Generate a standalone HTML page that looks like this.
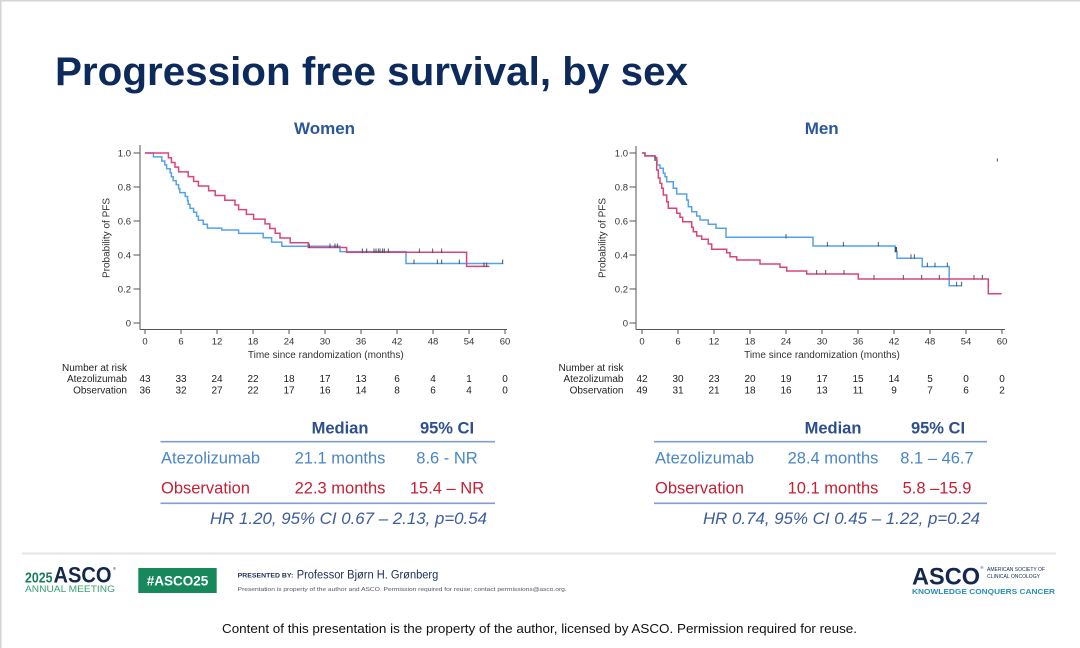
<!DOCTYPE html>
<html>
<head>
<meta charset="utf-8">
<style>
  html, body { margin: 0; padding: 0; background: #ffffff; }
  body { width: 1080px; height: 648px; overflow: hidden; }
  svg { display: block; font-family: "Liberation Sans", Arial, sans-serif; }
</style>
</head>
<body>
<svg width="1080" height="648" viewBox="0 0 1080 648" xmlns="http://www.w3.org/2000/svg">
  <rect x="0" y="0" width="1080" height="648" fill="#ffffff"/>
  <!-- slide border -->
  <line x1="0" y1="0.75" x2="1080" y2="0.75" stroke="#d4d4d4" stroke-width="1.5"/>
  <line x1="0.75" y1="0" x2="0.75" y2="648" stroke="#d4d4d4" stroke-width="1.5"/>

  <!-- Title -->
  <text x="55" y="85" font-size="40" font-weight="bold" fill="#0c2a5b" textLength="633" lengthAdjust="spacingAndGlyphs">Progression free survival, by sex</text>

  <!-- Panel titles -->
  <text x="324.5" y="134" font-size="17" font-weight="bold" fill="#2b579a" text-anchor="middle">Women</text>
  <text x="821.7" y="134" font-size="17" font-weight="bold" fill="#2b579a" text-anchor="middle">Men</text>

  <!-- ============ WOMEN PLOT ============ -->
  <g stroke="#555" stroke-width="1" fill="none">
    <line x1="140" y1="145" x2="140" y2="329.5"/>
    <line x1="140" y1="329.5" x2="507" y2="329.5"/>
    <line x1="133.5" y1="153" x2="140" y2="153"/>
    <line x1="133.5" y1="187" x2="140" y2="187"/>
    <line x1="133.5" y1="221" x2="140" y2="221"/>
    <line x1="133.5" y1="255" x2="140" y2="255"/>
    <line x1="133.5" y1="289" x2="140" y2="289"/>
    <line x1="133.5" y1="323" x2="140" y2="323"/>
    <line x1="145" y1="329.5" x2="145" y2="334"/>
    <line x1="181" y1="329.5" x2="181" y2="334"/>
    <line x1="217" y1="329.5" x2="217" y2="334"/>
    <line x1="253" y1="329.5" x2="253" y2="334"/>
    <line x1="289" y1="329.5" x2="289" y2="334"/>
    <line x1="325" y1="329.5" x2="325" y2="334"/>
    <line x1="361" y1="329.5" x2="361" y2="334"/>
    <line x1="397" y1="329.5" x2="397" y2="334"/>
    <line x1="433" y1="329.5" x2="433" y2="334"/>
    <line x1="469" y1="329.5" x2="469" y2="334"/>
    <line x1="505" y1="329.5" x2="505" y2="334"/>
  </g>
  <g font-size="9.5" fill="#333" text-anchor="end">
    <text x="131" y="156.4">1.0</text>
    <text x="131" y="190.4">0.8</text>
    <text x="131" y="224.4">0.6</text>
    <text x="131" y="258.4">0.4</text>
    <text x="131" y="292.4">0.2</text>
    <text x="131" y="326.4">0</text>
  </g>
  <g font-size="9.5" fill="#333" text-anchor="middle">
    <text x="145" y="344.5">0</text>
    <text x="181" y="344.5">6</text>
    <text x="217" y="344.5">12</text>
    <text x="253" y="344.5">18</text>
    <text x="289" y="344.5">24</text>
    <text x="325" y="344.5">30</text>
    <text x="361" y="344.5">36</text>
    <text x="397" y="344.5">42</text>
    <text x="433" y="344.5">48</text>
    <text x="469" y="344.5">54</text>
    <text x="505" y="344.5">60</text>
  </g>
  <text x="325.8" y="358" font-size="10" fill="#333" text-anchor="middle">Time since randomization (months)</text>
  <text transform="translate(109.5,238) rotate(-90)" font-size="10" fill="#333" text-anchor="middle">Probability of PFS</text>

  <!-- Women curves -->
  <path d="M145,153 H153.4 V156.9 H161.8 V161 H164.8 V164.9 H166.6 V168.8 H170.2 V172.7 H171.4 V176.8 H173.2 V180.7 H176.2 V184.6 H178.6 V188.7 H179.8 V192.6 H185.2 V196.5 H187.6 V200.6 H188.2 V204.3 H190 V208.4 H193.6 V212.3 H196.6 V216.2 H198.4 V220.2 H203.2 V224.2 H207.4 V228.1 H221.8 V230 H238.6 V233.4 H263.2 V237.7 H271.6 V242.1 H281.8 V246.2 H340 V251.6 H406 V263.5 H503.2" fill="none" stroke="#55a2ec" stroke-width="1.5"/>
  <path d="M145,153 H168.4 V157.8 H171.4 V162.5 H175 V167.1 H178.6 V171.9 H188.2 V176.6 H193.6 V181.4 H198.4 V186 H208.6 V190.7 H215.2 V195.5 H224.8 V200.3 H235 V205 H238.6 V209.6 H246.4 V214.4 H253.6 V219.1 H265 V223.9 H269.8 V228.5 H275.2 V233.2 H280 V238 H290.2 V242.8 H308.2 V247.5 H346.6 V252.3 H466.6 V266.4 H489.4" fill="none" stroke="#d8457a" stroke-width="1.5"/>
  <!-- Women censor ticks -->
  <g stroke="#444" stroke-width="0.9">
    <line x1="309.3" y1="243.5" x2="309.3" y2="248"/>
    <line x1="330" y1="243.5" x2="330" y2="248"/>
    <line x1="335" y1="243.5" x2="335" y2="248"/>
    <line x1="337.3" y1="243.5" x2="337.3" y2="248"/>
    <line x1="362.3" y1="248.5" x2="362.3" y2="253"/>
    <line x1="366.7" y1="248.5" x2="366.7" y2="253"/>
    <line x1="374" y1="248.5" x2="374" y2="253"/>
    <line x1="376" y1="248.5" x2="376" y2="253"/>
    <line x1="378.3" y1="248.5" x2="378.3" y2="253"/>
    <line x1="380" y1="248.5" x2="380" y2="253"/>
    <line x1="382.7" y1="248.5" x2="382.7" y2="253"/>
    <line x1="384.3" y1="248.5" x2="384.3" y2="253"/>
    <line x1="388.3" y1="248.5" x2="388.3" y2="253"/>
    <line x1="419.3" y1="248.5" x2="419.3" y2="253"/>
    <line x1="432.7" y1="248.5" x2="432.7" y2="253"/>
    <line x1="441.7" y1="248.5" x2="441.7" y2="253"/>
    <line x1="414" y1="259.5" x2="414" y2="264"/>
    <line x1="437.3" y1="259.5" x2="437.3" y2="264"/>
    <line x1="441.7" y1="259.5" x2="441.7" y2="264"/>
    <line x1="459.3" y1="259.5" x2="459.3" y2="264"/>
    <line x1="502.7" y1="259.5" x2="502.7" y2="264"/>
    <line x1="484" y1="262.5" x2="484" y2="267"/>
    <line x1="486.7" y1="262.5" x2="486.7" y2="267"/>
  </g>

  <!-- Women number at risk -->
  <g font-size="10" fill="#222" text-anchor="end">
    <text x="127" y="371">Number at risk</text>
    <text x="127" y="382">Atezolizumab</text>
    <text x="127" y="393.5">Observation</text>
  </g>
  <g font-size="10" fill="#222" text-anchor="middle">
    <text x="145" y="382">43</text><text x="181" y="382">33</text><text x="217" y="382">24</text><text x="253" y="382">22</text><text x="289" y="382">18</text><text x="325" y="382">17</text><text x="361" y="382">13</text><text x="397" y="382">6</text><text x="433" y="382">4</text><text x="469" y="382">1</text><text x="505" y="382">0</text>
    <text x="145" y="393.5">36</text><text x="181" y="393.5">32</text><text x="217" y="393.5">27</text><text x="253" y="393.5">22</text><text x="289" y="393.5">17</text><text x="325" y="393.5">16</text><text x="361" y="393.5">14</text><text x="397" y="393.5">8</text><text x="433" y="393.5">6</text><text x="469" y="393.5">4</text><text x="505" y="393.5">0</text>
  </g>

  <!-- ============ MEN PLOT ============ -->
  <g stroke="#555" stroke-width="1" fill="none">
    <line x1="636" y1="146" x2="636" y2="329.5"/>
    <line x1="636" y1="329.5" x2="1005" y2="329.5"/>
    <line x1="629.5" y1="153" x2="636" y2="153"/>
    <line x1="629.5" y1="187" x2="636" y2="187"/>
    <line x1="629.5" y1="221" x2="636" y2="221"/>
    <line x1="629.5" y1="255" x2="636" y2="255"/>
    <line x1="629.5" y1="289" x2="636" y2="289"/>
    <line x1="629.5" y1="323" x2="636" y2="323"/>
    <line x1="642" y1="329.5" x2="642" y2="334"/>
    <line x1="678" y1="329.5" x2="678" y2="334"/>
    <line x1="714" y1="329.5" x2="714" y2="334"/>
    <line x1="750" y1="329.5" x2="750" y2="334"/>
    <line x1="786" y1="329.5" x2="786" y2="334"/>
    <line x1="822" y1="329.5" x2="822" y2="334"/>
    <line x1="858" y1="329.5" x2="858" y2="334"/>
    <line x1="894" y1="329.5" x2="894" y2="334"/>
    <line x1="930" y1="329.5" x2="930" y2="334"/>
    <line x1="966" y1="329.5" x2="966" y2="334"/>
    <line x1="1002" y1="329.5" x2="1002" y2="334"/>
  </g>
  <g font-size="9.5" fill="#333" text-anchor="end">
    <text x="628" y="156.4">1.0</text>
    <text x="628" y="190.4">0.8</text>
    <text x="628" y="224.4">0.6</text>
    <text x="628" y="258.4">0.4</text>
    <text x="628" y="292.4">0.2</text>
    <text x="628" y="326.4">0</text>
  </g>
  <g font-size="9.5" fill="#333" text-anchor="middle">
    <text x="642" y="344.5">0</text>
    <text x="678" y="344.5">6</text>
    <text x="714" y="344.5">12</text>
    <text x="750" y="344.5">18</text>
    <text x="786" y="344.5">24</text>
    <text x="822" y="344.5">30</text>
    <text x="858" y="344.5">36</text>
    <text x="894" y="344.5">42</text>
    <text x="930" y="344.5">48</text>
    <text x="966" y="344.5">54</text>
    <text x="1002" y="344.5">60</text>
  </g>
  <text x="822" y="358" font-size="10" fill="#333" text-anchor="middle">Time since randomization (months)</text>
  <text transform="translate(605.5,238) rotate(-90)" font-size="10" fill="#333" text-anchor="middle">Probability of PFS</text>

  <!-- Men curves -->
  <path d="M642,153 H645 V155.7 H655 V160 H657 V165 H660 V168.3 H663.3 V173.3 H665 V176.7 H666.7 V181.7 H673.3 V188.3 H676.7 V194 H686.7 V200 H688.3 V206.7 H691.7 V211.7 H696.7 V216 H700 V220 H708.3 V224.3 H716 V228.3 H726 V237.3 H813 V246 H895.2 V251.6 H897 V258.2 H922.2 V266.6 H949.2 V285.8 H961.8" fill="none" stroke="#55a2ec" stroke-width="1.5"/>
  <path d="M642,153 H645 V156 H655 V157.5 H656.7 V170 H658.3 V178 H660 V183.3 H661.7 V188.3 H663.3 V195 H666.7 V201.7 H668.3 V208.3 H676.7 V213.3 H680 V217.3 H682.7 V221.7 H691.7 V227.3 H693.3 V231.7 H696.7 V236 H701.7 V239.3 H708.3 V244 H711.7 V249.3 H726.7 V252.7 H730 V256.7 H736.7 V260 H760 V264 H780 V267.3 H786.7 V271 H806.7 V274 H858.3 V279 H988.3 V293.7 H1001.7" fill="none" stroke="#d8457a" stroke-width="1.5"/>
  <!-- Men censor ticks -->
  <g stroke="#444" stroke-width="0.9">
    <line x1="655" y1="156.5" x2="655" y2="161"/>
    <line x1="786" y1="234" x2="786" y2="238.5"/>
    <line x1="827.3" y1="242" x2="827.3" y2="246.5"/>
    <line x1="843.3" y1="242" x2="843.3" y2="246.5"/>
    <line x1="878.3" y1="242" x2="878.3" y2="246.5"/>
    <line x1="895.5" y1="247" x2="895.5" y2="252"/>
    <line x1="896.5" y1="247" x2="896.5" y2="252"/>
    <line x1="911" y1="254.2" x2="911" y2="258.7"/>
    <line x1="914.3" y1="254.2" x2="914.3" y2="258.7"/>
    <line x1="927.3" y1="262.6" x2="927.3" y2="267"/>
    <line x1="935" y1="262.6" x2="935" y2="267"/>
    <line x1="947.3" y1="262.6" x2="947.3" y2="267"/>
    <line x1="956.7" y1="281.8" x2="956.7" y2="286.3"/>
    <line x1="961.7" y1="281.8" x2="961.7" y2="286.3"/>
    <line x1="816.7" y1="270" x2="816.7" y2="274.5"/>
    <line x1="825.7" y1="270" x2="825.7" y2="274.5"/>
    <line x1="844" y1="270" x2="844" y2="274.5"/>
    <line x1="874" y1="275" x2="874" y2="279.5"/>
    <line x1="903.3" y1="275" x2="903.3" y2="279.5"/>
    <line x1="921.7" y1="275" x2="921.7" y2="279.5"/>
    <line x1="939.3" y1="275" x2="939.3" y2="279.5"/>
    <line x1="974" y1="275" x2="974" y2="279.5"/>
    <line x1="982.3" y1="275" x2="982.3" y2="279.5"/>
    <line x1="997.3" y1="158.5" x2="997.3" y2="161.5"/>
  </g>

  <!-- Men number at risk -->
  <g font-size="10" fill="#222" text-anchor="end">
    <text x="623.5" y="371">Number at risk</text>
    <text x="623.5" y="382">Atezolizumab</text>
    <text x="623.5" y="393.5">Observation</text>
  </g>
  <g font-size="10" fill="#222" text-anchor="middle">
    <text x="642" y="382">42</text><text x="678" y="382">30</text><text x="714" y="382">23</text><text x="750" y="382">20</text><text x="786" y="382">19</text><text x="822" y="382">17</text><text x="858" y="382">15</text><text x="894" y="382">14</text><text x="930" y="382">5</text><text x="966" y="382">0</text><text x="1002" y="382">0</text>
    <text x="642" y="393.5">49</text><text x="678" y="393.5">31</text><text x="714" y="393.5">21</text><text x="750" y="393.5">18</text><text x="786" y="393.5">16</text><text x="822" y="393.5">13</text><text x="858" y="393.5">11</text><text x="894" y="393.5">9</text><text x="930" y="393.5">7</text><text x="966" y="393.5">6</text><text x="1002" y="393.5">2</text>
  </g>

  <!-- ============ WOMEN TABLE ============ -->
  <g font-size="16.5">
    <text x="340" y="433.6" font-weight="bold" fill="#2d4f8e" text-anchor="middle">Median</text>
    <text x="447" y="433.6" font-weight="bold" fill="#2d4f8e" text-anchor="middle">95% CI</text>
    <line x1="160.5" y1="441.7" x2="495" y2="441.7" stroke="#7f9fd2" stroke-width="1.6"/>
    <text x="161" y="463.5" fill="#4a86c5">Atezolizumab</text>
    <text x="340" y="463.5" fill="#4a86c5" text-anchor="middle">21.1 months</text>
    <text x="447" y="463.5" fill="#4a86c5" text-anchor="middle">8.6 - NR</text>
    <text x="161" y="493.5" fill="#c52033">Observation</text>
    <text x="340" y="493.5" fill="#c52033" text-anchor="middle">22.3 months</text>
    <text x="447" y="493.5" fill="#c52033" text-anchor="middle">15.4 – NR</text>
    <line x1="160.5" y1="503.3" x2="495" y2="503.3" stroke="#7f9fd2" stroke-width="1.6"/>
    <text x="210" y="524" font-style="italic" fill="#3c5c9c" textLength="277" lengthAdjust="spacingAndGlyphs">HR 1.20, 95% CI 0.67 – 2.13, p=0.54</text>
  </g>

  <!-- ============ MEN TABLE ============ -->
  <g font-size="16.5">
    <text x="833" y="433.6" font-weight="bold" fill="#2d4f8e" text-anchor="middle">Median</text>
    <text x="938" y="433.6" font-weight="bold" fill="#2d4f8e" text-anchor="middle">95% CI</text>
    <line x1="654" y1="441.7" x2="987" y2="441.7" stroke="#7f9fd2" stroke-width="1.6"/>
    <text x="655" y="463.5" fill="#4a86c5">Atezolizumab</text>
    <text x="833" y="463.5" fill="#4a86c5" text-anchor="middle">28.4 months</text>
    <text x="937" y="463.5" fill="#4a86c5" text-anchor="middle">8.1 – 46.7</text>
    <text x="655" y="493.5" fill="#c52033">Observation</text>
    <text x="833" y="493.5" fill="#c52033" text-anchor="middle">10.1 months</text>
    <text x="937" y="493.5" fill="#c52033" text-anchor="middle">5.8 –15.9</text>
    <line x1="654" y1="503.3" x2="987" y2="503.3" stroke="#7f9fd2" stroke-width="1.6"/>
    <text x="703" y="524" font-style="italic" fill="#3c5c9c" textLength="277" lengthAdjust="spacingAndGlyphs">HR 0.74, 95% CI 0.45 – 1.22, p=0.24</text>
  </g>

  <!-- ============ FOOTER ============ -->
  <line x1="22" y1="553.5" x2="1056" y2="553.5" stroke="#e6e6e6" stroke-width="2"/>
  <text x="25" y="582.5" font-size="15" font-weight="bold" fill="#1e7a5a" textLength="27.5" lengthAdjust="spacingAndGlyphs">2025</text>
  <text x="53.5" y="582.5" font-size="22" font-weight="bold" fill="#14284f" textLength="58" lengthAdjust="spacingAndGlyphs">ASCO</text>
  <text x="113" y="570" font-size="4" fill="#14284f">®</text>
  <text x="25" y="592" font-size="9" fill="#34a06f" textLength="90" lengthAdjust="spacingAndGlyphs">ANNUAL MEETING</text>
  <rect x="138.3" y="568" width="78.4" height="25" fill="#16885c"/>
  <text x="177.5" y="585.5" font-size="13.5" font-weight="bold" fill="#ffffff" text-anchor="middle">#ASCO25</text>
  <text x="237.7" y="577.3" font-size="6" font-weight="bold" fill="#1b2d55" textLength="55.6" lengthAdjust="spacingAndGlyphs">PRESENTED BY:</text>
  <text x="296.7" y="578.3" font-size="11.5" fill="#1b2d55" textLength="141.6" lengthAdjust="spacingAndGlyphs">Professor Bjørn H. Grønberg</text>
  <text x="237.7" y="591" font-size="5.3" fill="#556" textLength="329" lengthAdjust="spacingAndGlyphs">Presentation is property of the author and ASCO. Permission required for reuse; contact permissions@asco.org.</text>

  <text x="912" y="584.5" font-size="24" font-weight="bold" fill="#14284f" textLength="68" lengthAdjust="spacingAndGlyphs">ASCO</text>
  <text x="980.5" y="569" font-size="4" fill="#14284f">®</text>
  <text x="987" y="571" font-size="5" fill="#14284f" textLength="58" lengthAdjust="spacingAndGlyphs">AMERICAN SOCIETY OF</text>
  <text x="987" y="578" font-size="5" fill="#14284f" textLength="53" lengthAdjust="spacingAndGlyphs">CLINICAL ONCOLOGY</text>
  <text x="912" y="594" font-size="7.5" font-weight="bold" fill="#2a8fb8" textLength="143" lengthAdjust="spacingAndGlyphs">KNOWLEDGE CONQUERS CANCER</text>

  <text x="539.5" y="633" font-size="13" fill="#111" text-anchor="middle" textLength="635" lengthAdjust="spacingAndGlyphs">Content of this presentation is the property of the author, licensed by ASCO. Permission required for reuse.</text>
</svg>
</body>
</html>
